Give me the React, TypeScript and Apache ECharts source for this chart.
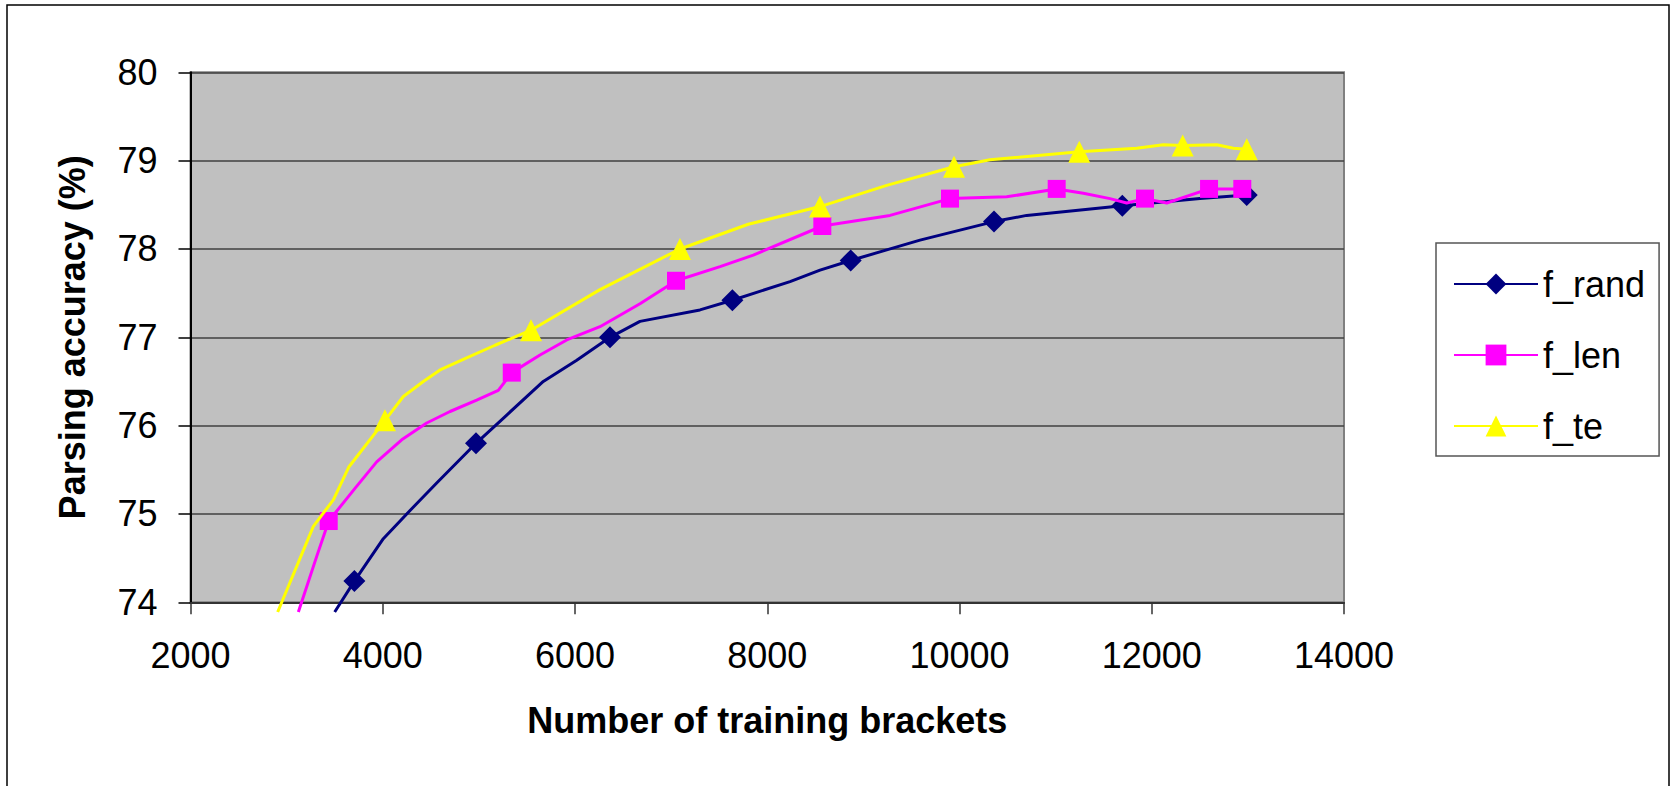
import React, { useEffect, useRef } from 'react';
import * as echarts from 'echarts';

const FONT = '"Liberation Sans", Arial, Helvetica, sans-serif';

const seriesNames = ['f_rand', 'f_len', 'f_te'];
const seriesColors = ['#000080', '#FF00FF', '#FFFF00'];
const seriesSymbols = ['diamond', 'rect', 'triangle'];

const xAxisTitle = 'Number of training brackets';
const yAxisTitle = 'Parsing accuracy (%)';
const xMin = 2000;
const xMax = 14000;
const xStep = 2000;
const yMin = 74;
const yMax = 80;
const yStep = 1;

// f_rand
const randX = [3500, 3705, 4006, 4284, 4561, 4970, 5290, 5670, 6018, 6364, 6676, 7300, 7637, 8237, 8549, 8868, 9243, 9589, 10359, 10699, 11694, 12502, 12988];
const randY = [73.89, 74.24, 74.72, 75.04, 75.35, 75.8, 76.12, 76.5, 76.74, 77.0, 77.18, 77.31, 77.42, 77.63, 77.76, 77.87, 77.99, 78.1, 78.31, 78.38, 78.49, 78.57, 78.61];
const randMark = [0, 1, 0, 0, 0, 1, 0, 0, 0, 1, 0, 0, 1, 0, 0, 1, 0, 0, 1, 0, 1, 0, 1];

// f_len
const lenX = [3122, 3313, 3438, 3711, 3937, 4197, 4457, 4700, 4977, 5202, 5342, 5636, 5914, 6260, 6676, 7051, 7509, 7855, 8573, 9277, 9901, 10491, 11011, 11288, 11566, 11739, 11930, 12156, 12596, 12942];
const lenY = [73.89, 74.52, 74.92, 75.29, 75.59, 75.84, 76.03, 76.16, 76.29, 76.4, 76.6, 76.8, 76.97, 77.12, 77.38, 77.64, 77.8, 77.93, 78.26, 78.38, 78.57, 78.59, 78.68, 78.63, 78.57, 78.52, 78.57, 78.52, 78.68, 78.68];
const lenMark = [0, 0, 1, 0, 0, 0, 0, 0, 0, 0, 1, 0, 0, 0, 0, 1, 0, 0, 1, 0, 1, 0, 1, 0, 0, 0, 1, 0, 1, 1];

// f_te
const teX = [2907, 3278, 3486, 3649, 4023, 4214, 4422, 4596, 4838, 5168, 5542, 6260, 7092, 7802, 8549, 9243, 9943, 10317, 11246, 11843, 12120, 12322, 12676, 12849, 12988];
const teY = [73.89, 74.86, 75.16, 75.535, 76.06, 76.33, 76.5, 76.63, 76.75, 76.91, 77.08, 77.54, 78.0, 78.28, 78.48, 78.72, 78.93, 79.01, 79.1, 79.14, 79.18, 79.17, 79.18, 79.14, 79.13];
const teMark = [0, 0, 0, 0, 1, 0, 0, 0, 0, 0, 1, 0, 1, 0, 1, 0, 1, 0, 1, 0, 0, 1, 0, 0, 1];

const allX = [randX, lenX, teX];
const allY = [randY, lenY, teY];
const allMark = [randMark, lenMark, teMark];
const symbolSizes = [22, 18, 22];

export default function App() {
  const ref = useRef<HTMLDivElement>(null);

  useEffect(() => {
    if (!ref.current) return;
    const chart = echarts.init(ref.current, undefined, { renderer: 'svg' });

    const series = seriesNames.map((name, i) => ({
      name,
      type: 'line',
      clip: false,
      smooth: false,
      symbol: seriesSymbols[i],
      symbolSize: symbolSizes[i],
      color: seriesColors[i],
      lineStyle: { color: seriesColors[i], width: 3 },
      itemStyle: { color: seriesColors[i] },
      data: allX[i].map((x, j) =>
        allMark[i][j]
          ? { value: [x, allY[i][j]] }
          : { value: [x, allY[i][j]], symbol: 'none' }
      ),
      z: 3 + i,
    }));

    chart.setOption({
      animation: false,
      backgroundColor: '#ffffff',
      textStyle: { fontFamily: FONT },
      graphic: [
        {
          type: 'rect',
          shape: { x: 7, y: 5, width: 1662, height: 800 },
          style: { fill: 'none', stroke: '#000', lineWidth: 1.5 },
          silent: true,
          z: -1,
        },
      ],
      grid: {
        left: 190.5,
        top: 72.3,
        right: 329,
        bottom: 183.7,
        show: true,
        backgroundColor: '#C0C0C0',
        borderColor: '#808080',
        borderWidth: 2,
      },
      legend: {
        data: seriesNames,
        orient: 'vertical',
        left: 1436,
        top: 243,
        itemWidth: 84,
        itemHeight: 26,
        itemGap: 35,
        padding: [23, 14, 12, 17],
        borderColor: '#555',
        borderWidth: 1.5,
        backgroundColor: '#ffffff',
        textStyle: { fontSize: 36, fontFamily: FONT, color: '#000', lineHeight: 26 },
      },
      xAxis: {
        type: 'value',
        min: xMin,
        max: xMax,
        interval: xStep,
        name: xAxisTitle,
        nameLocation: 'middle',
        nameGap: 100,
        nameTextStyle: { fontSize: 36, fontWeight: 'bold', color: '#000', fontFamily: FONT },
        axisLine: { show: true, lineStyle: { color: '#333', width: 2 } },
        axisTick: { show: true, length: 12, lineStyle: { color: '#333', width: 1.5 } },
        axisLabel: {
          fontSize: 36,
          color: '#000',
          margin: 35,
          fontFamily: FONT,
          formatter: (v: number) => String(v),
        },
        splitLine: { show: false },
      },
      yAxis: {
        type: 'value',
        min: yMin,
        max: yMax,
        interval: yStep,
        name: yAxisTitle,
        nameLocation: 'middle',
        nameGap: 100,
        nameTextStyle: { fontSize: 36, fontWeight: 'bold', color: '#000', fontFamily: FONT },
        axisLine: { show: true, lineStyle: { color: '#000', width: 2 } },
        axisTick: { show: true, length: 12, lineStyle: { color: '#000', width: 1.5 } },
        axisLabel: {
          fontSize: 36,
          color: '#000',
          margin: 33,
          fontFamily: FONT,
          padding: [0, 0, 8, 0],
          formatter: (v: number) => String(v),
        },
        splitLine: { show: true, lineStyle: { color: '#404040', width: 1.5 } },
      },
      series,
    });

    return () => chart.dispose();
  }, []);

  return (
    <div
      ref={ref}
      style={{ position: 'fixed', left: 0, top: 0, width: 1673, height: 786, background: '#fff' }}
    />
  );
}
